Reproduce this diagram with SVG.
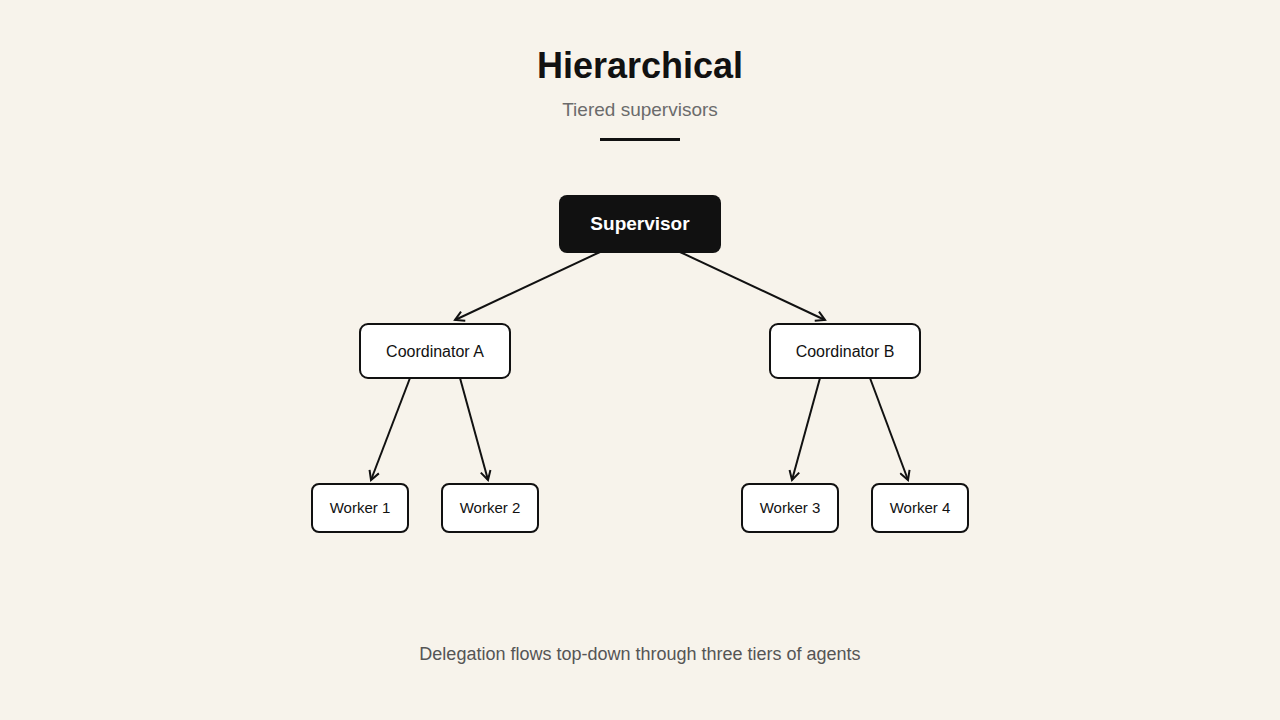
<svg xmlns="http://www.w3.org/2000/svg" width="1280" height="720" viewBox="0 0 1280 720">
<defs>
<marker id="arr" viewBox="0 0 12 12" refX="10" refY="6" markerWidth="12" markerHeight="12" markerUnits="userSpaceOnUse" orient="auto"><path d="M1,1 L10,6 L1,11" fill="none" stroke="#111" stroke-width="2"/></marker>
<style>
.box{fill:#fff;stroke:#111;stroke-width:2}
.t{font-family:"Liberation Sans",Arial,sans-serif;fill:#111;text-anchor:middle}
.c line{stroke:#111;stroke-width:2;marker-end:url(#arr)}
</style>
</defs>
<rect width="1280" height="720" fill="#f7f3eb"/>
<text class="t" x="640" y="78" font-size="36" font-weight="bold">Hierarchical</text>
<text class="t" x="640" y="116" font-size="19" fill="#666" style="fill:#6b6b6b">Tiered supervisors</text>
<rect x="600" y="138" width="80" height="3" fill="#111"/>
<g class="c">
<line x1="600" y1="252" x2="455" y2="320"/>
<line x1="680" y1="252" x2="825" y2="320"/>
<line x1="410" y1="378" x2="371" y2="480"/>
<line x1="460" y1="378" x2="488" y2="480"/>
<line x1="820" y1="378" x2="792" y2="480"/>
<line x1="870" y1="378" x2="908" y2="480"/>
</g>
<g id="supervisor"><rect x="559" y="195" width="162" height="58" rx="8" fill="#111"/><text class="t" x="640" y="230" font-size="19" font-weight="bold" style="fill:#fff">Supervisor</text></g>
<g id="coordA"><rect class="box" x="360" y="324" width="150" height="54" rx="8"/><text class="t" x="435" y="357" font-size="16">Coordinator A</text></g>
<g id="coordB"><rect class="box" x="770" y="324" width="150" height="54" rx="8"/><text class="t" x="845" y="357" font-size="16">Coordinator B</text></g>
<g id="w1"><rect class="box" x="312" y="484" width="96" height="48" rx="7"/><text class="t" x="360" y="513" font-size="15">Worker 1</text></g>
<g id="w2"><rect class="box" x="442" y="484" width="96" height="48" rx="7"/><text class="t" x="490" y="513" font-size="15">Worker 2</text></g>
<g id="w3"><rect class="box" x="742" y="484" width="96" height="48" rx="7"/><text class="t" x="790" y="513" font-size="15">Worker 3</text></g>
<g id="w4"><rect class="box" x="872" y="484" width="96" height="48" rx="7"/><text class="t" x="920" y="513" font-size="15">Worker 4</text></g>
<text class="t" x="640" y="660" font-size="18" style="fill:#555">Delegation flows top-down through three tiers of agents</text>
</svg>
